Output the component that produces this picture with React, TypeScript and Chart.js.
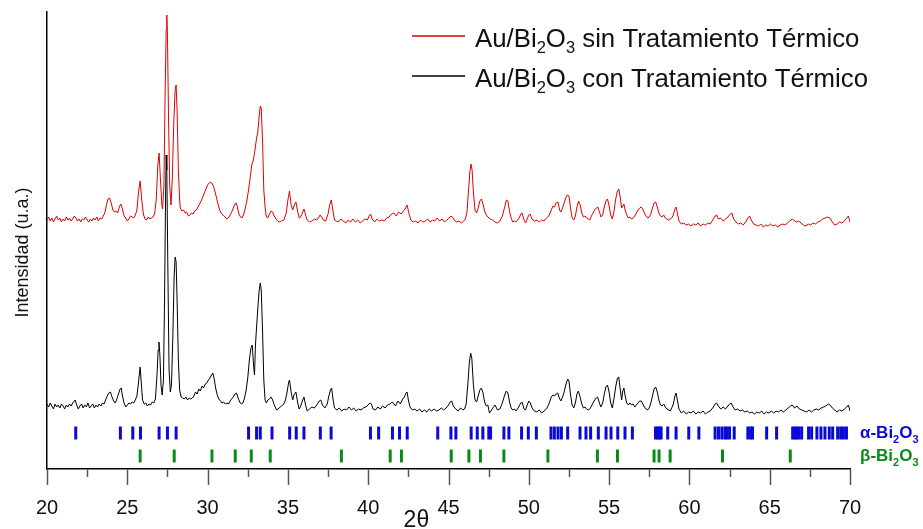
import React, { useEffect, useRef } from 'react';
import { Chart, registerables } from 'chart.js';
Chart.register(...registerables);

// ---------- data ----------
const X_MIN = 20;
const X_MAX = 70;
const X_STEP = 5;
const Y_MAX = 457;

const seriesLabels = [
  'Au/Bi2O3 sin Tratamiento Térmico',
  'Au/Bi2O3 con Tratamiento Térmico',
];
const phaseLabels = ['α-Bi2O3', 'β-Bi2O3'];
const axisTitleX = '2θ';
const axisTitleY = 'Intensidad (u.a.)';

// Au/Bi2O3 sin tratamiento térmico: [2θ, intensity a.u.]
const sinTratamiento: [number, number][] = [
  [20.0,249],[20.1,252],[20.2,248],[20.3,251],[20.4,247],[20.5,250],[20.6,253],[20.7,249],[20.8,251],[20.9,247],
  [21.0,250],[21.1,248],[21.2,252],[21.3,249],[21.4,251],[21.5,248],[21.6,250],[21.7,253],[21.8,251],[21.9,248],
  [22.0,250],[22.1,247],[22.2,250],[22.3,249],[22.4,252],[22.5,249],[22.6,247],[22.7,250],[22.8,248],[22.9,251],
  [23.0,249],[23.1,252],[23.2,248],[23.3,251],[23.4,250],[23.5,253],[23.6,256],[23.7,264],[23.8,270],[23.9,271],
  [24.0,266],[24.1,259],[24.2,257],[24.3,258],[24.4,256],[24.5,262],[24.6,265],[24.7,260],[24.8,253],[24.9,251],
  [25.0,248],[25.1,250],[25.2,253],[25.3,252],[25.4,251],[25.5,254],[25.6,259],[25.7,277],[25.8,288],[25.9,269],
  [26.0,255],[26.1,250],[26.2,249],[26.3,252],[26.4,250],[26.5,251],[26.6,252],[26.7,255],[26.8,269],[26.9,304],
  [26.98,316],[27.05,294],[27.15,264],[27.2,260],[27.28,284],[27.35,369],[27.42,439],[27.46,454],[27.5,434],[27.57,349],
  [27.64,284],[27.72,264],[27.8,289],[27.9,349],[27.98,379],[28.04,384],[28.1,359],[28.18,299],[28.26,269],[28.3,261],
  [28.4,258],[28.5,259],[28.6,256],[28.7,257],[28.8,253],[28.9,254],[29.0,256],[29.1,255],[29.2,258],[29.3,259],
  [29.4,262],[29.5,265],[29.6,268],[29.7,272],[29.8,276],[29.9,280],[30.0,284],[30.1,286],[30.2,287],[30.3,285],
  [30.4,281],[30.5,275],[30.6,268],[30.7,262],[30.8,257],[30.9,255],[31.0,253],[31.1,252],[31.2,250],[31.3,251],
  [31.4,254],[31.5,257],[31.6,261],[31.7,265],[31.78,266],[31.85,262],[31.95,255],[32.05,252],[32.15,251],[32.25,255],
  [32.35,261],[32.45,269],[32.55,279],[32.65,291],[32.75,304],[32.85,309],[32.95,319],[33.05,331],[33.12,336],[33.2,351],
  [33.28,363],[33.34,361],[33.42,329],[33.5,279],[33.58,262],[33.66,252],[33.75,251],[33.85,255],[33.95,258],[34.05,257],
  [34.15,253],[34.3,249],[34.45,247],[34.6,248],[34.75,249],[34.9,256],[35.0,269],[35.1,278],[35.2,264],[35.3,259],
  [35.4,264],[35.5,267],[35.6,258],[35.7,251],[35.8,252],[35.9,256],[36.0,260],[36.1,254],[36.2,249],[36.35,247],
  [36.5,248],[36.65,250],[36.8,249],[36.9,251],[37.0,254],[37.1,252],[37.2,249],[37.35,248],[37.5,255],[37.6,264],
  [37.7,269],[37.8,259],[37.9,249],[38.0,248],[38.15,247],[38.3,250],[38.45,248],[38.6,246],[38.75,249],[38.9,247],
  [39.05,250],[39.2,247],[39.35,249],[39.5,246],[39.65,248],[39.8,250],[39.95,249],[40.05,253],[40.15,255],[40.25,250],
  [40.4,247],[40.55,250],[40.7,248],[40.85,249],[41.0,248],[41.15,251],[41.3,252],[41.45,255],[41.6,256],[41.75,253],
  [41.9,257],[42.05,255],[42.2,258],[42.3,260],[42.42,264],[42.52,257],[42.65,249],[42.8,247],[42.95,248],[43.1,246],
  [43.25,249],[43.4,247],[43.55,248],[43.7,250],[43.85,247],[44.0,249],[44.15,248],[44.3,251],[44.45,248],[44.6,250],
  [44.75,247],[44.9,249],[45.05,251],[45.15,253],[45.25,252],[45.35,249],[45.5,247],[45.65,248],[45.8,246],[45.95,248],
  [46.05,250],[46.15,257],[46.25,279],[46.33,297],[46.4,305],[46.47,299],[46.55,277],[46.65,259],[46.75,256],[46.85,261],
  [46.95,268],[47.05,270],[47.15,265],[47.25,258],[47.35,254],[47.45,252],[47.6,250],[47.75,249],[47.9,247],[48.05,246],
  [48.2,248],[48.35,253],[48.5,262],[48.6,269],[48.7,268],[48.8,258],[48.9,251],[49.0,247],[49.1,248],[49.2,247],
  [49.3,249],[49.4,251],[49.5,255],[49.58,256],[49.7,249],[49.8,246],[49.9,250],[50.0,254],[50.08,255],[50.2,250],
  [50.35,248],[50.5,249],[50.65,247],[50.8,249],[50.95,248],[51.1,251],[51.25,253],[51.4,259],[51.5,263],[51.6,262],
  [51.7,266],[51.82,267],[51.92,259],[52.0,257],[52.1,261],[52.2,266],[52.3,271],[52.4,274],[52.5,273],[52.6,261],
  [52.7,251],[52.8,249],[52.9,253],[53.0,262],[53.1,268],[53.2,264],[53.3,256],[53.4,252],[53.5,253],[53.6,251],
  [53.7,250],[53.8,249],[53.9,253],[54.0,256],[54.1,259],[54.2,261],[54.3,262],[54.4,257],[54.5,252],[54.6,254],
  [54.7,262],[54.8,268],[54.9,270],[55.0,263],[55.1,254],[55.2,250],[55.3,257],[55.4,269],[55.5,277],[55.6,280],
  [55.7,271],[55.78,261],[55.85,263],[55.92,265],[56.0,259],[56.1,254],[56.2,251],[56.3,252],[56.4,250],[56.5,251],
  [56.6,253],[56.7,256],[56.8,259],[56.9,261],[57.0,262],[57.1,260],[57.2,256],[57.3,253],[57.4,251],[57.5,252],
  [57.6,255],[57.7,261],[57.8,266],[57.9,267],[58.0,262],[58.1,256],[58.2,253],[58.3,252],[58.4,254],[58.5,251],
  [58.6,250],[58.7,249],[58.8,250],[58.9,251],[59.0,254],[59.1,260],[59.17,262],[59.25,256],[59.35,248],[59.5,245],
  [59.65,246],[59.8,244],[59.95,245],[60.1,243],[60.25,245],[60.4,244],[60.55,246],[60.7,243],[60.85,245],[61.0,244],
  [61.15,246],[61.3,245],[61.45,249],[61.6,253],[61.7,254],[61.8,250],[61.95,251],[62.1,248],[62.25,250],[62.4,252],
  [62.55,255],[62.65,256],[62.75,250],[62.9,247],[63.05,245],[63.2,246],[63.35,244],[63.5,247],[63.65,251],[63.75,253],
  [63.85,249],[64.0,245],[64.15,244],[64.3,243],[64.45,245],[64.6,242],[64.75,244],[64.9,243],[65.05,245],[65.2,243],
  [65.35,244],[65.5,242],[65.65,244],[65.8,245],[65.95,244],[66.1,246],[66.25,248],[66.4,250],[66.5,249],[66.65,247],
  [66.8,248],[66.95,246],[67.1,244],[67.25,243],[67.4,245],[67.55,244],[67.7,246],[67.85,245],[68.0,247],[68.15,248],
  [68.3,250],[68.45,251],[68.6,252],[68.75,251],[68.9,247],[69.05,244],[69.2,245],[69.35,247],[69.5,246],[69.65,248],
  [69.8,251],[69.9,253],[70.0,247],
];

// Au/Bi2O3 con tratamiento térmico: [2θ, intensity a.u.]
const conTratamiento: [number, number][] = [
  [20.0,65],[20.1,62],[20.2,66],[20.3,63],[20.4,60],[20.5,65],[20.6,62],[20.7,64],[20.8,61],[20.9,65],
  [21.0,63],[21.1,60],[21.2,64],[21.3,62],[21.4,65],[21.5,63],[21.6,66],[21.75,69],[21.85,64],[21.95,60],
  [22.05,63],[22.15,65],[22.25,61],[22.35,64],[22.45,62],[22.55,66],[22.65,61],[22.75,63],[22.85,65],[22.95,61],
  [23.05,64],[23.15,62],[23.25,65],[23.35,63],[23.45,66],[23.55,65],[23.65,69],[23.75,73],[23.85,76],[23.95,77],
  [24.05,72],[24.15,68],[24.25,66],[24.35,70],[24.45,75],[24.55,80],[24.62,81],[24.7,73],[24.8,66],[24.9,62],
  [25.0,64],[25.1,66],[25.2,65],[25.3,67],[25.4,66],[25.5,69],[25.6,73],[25.7,87],[25.8,102],[25.88,84],
  [25.95,69],[26.05,65],[26.15,66],[26.25,63],[26.35,65],[26.45,64],[26.55,67],[26.65,66],[26.75,70],[26.85,94],
  [26.92,119],[26.97,127],[27.03,114],[27.1,84],[27.17,74],[27.25,89],[27.32,169],[27.38,269],[27.42,314],[27.46,299],
  [27.52,209],[27.6,99],[27.68,77],[27.75,84],[27.83,129],[27.92,194],[27.98,212],[28.04,207],[28.1,169],[28.18,109],
  [28.26,79],[28.35,72],[28.45,71],[28.55,70],[28.65,72],[28.75,69],[28.85,71],[28.95,70],[29.05,71],[29.15,73],
  [29.25,77],[29.35,75],[29.45,80],[29.55,78],[29.65,83],[29.75,81],[29.85,85],[29.95,86],[30.05,89],[30.15,91],
  [30.25,94],[30.32,96],[30.4,91],[30.5,81],[30.6,74],[30.7,70],[30.8,68],[30.9,66],[31.0,67],[31.1,65],
  [31.2,66],[31.3,65],[31.4,68],[31.5,70],[31.6,72],[31.7,75],[31.8,76],[31.9,71],[32.0,67],[32.1,65],
  [32.2,66],[32.3,71],[32.4,79],[32.5,91],[32.6,109],[32.7,121],[32.78,124],[32.86,104],[32.92,94],[32.98,124],
  [33.05,142],[33.12,159],[33.2,177],[33.28,186],[33.34,179],[33.42,139],[33.5,89],[33.58,69],[33.66,66],[33.75,69],
  [33.85,70],[33.95,72],[34.05,69],[34.15,64],[34.3,59],[34.45,61],[34.6,63],[34.75,65],[34.85,69],[34.95,77],
  [35.05,87],[35.1,89],[35.2,77],[35.3,69],[35.4,75],[35.5,77],[35.6,67],[35.7,60],[35.8,63],[35.9,68],
  [36.0,72],[36.1,64],[36.2,58],[36.35,60],[36.5,62],[36.65,61],[36.8,64],[36.95,68],[37.05,69],[37.15,64],
  [37.3,61],[37.45,65],[37.55,73],[37.65,79],[37.72,81],[37.8,71],[37.9,61],[38.05,59],[38.2,61],[38.35,58],
  [38.5,60],[38.65,59],[38.8,62],[38.95,59],[39.1,61],[39.25,58],[39.4,60],[39.55,59],[39.7,61],[39.85,62],
  [40.0,64],[40.1,66],[40.2,65],[40.3,60],[40.45,59],[40.6,62],[40.75,60],[40.9,63],[41.05,61],[41.2,64],
  [41.35,65],[41.5,67],[41.6,65],[41.7,63],[41.85,68],[42.0,65],[42.15,70],[42.25,72],[42.35,76],[42.42,77],
  [42.5,69],[42.6,62],[42.75,59],[42.9,60],[43.05,58],[43.2,60],[43.35,57],[43.5,59],[43.65,57],[43.8,60],
  [43.95,58],[44.1,60],[44.25,58],[44.4,59],[44.55,61],[44.7,59],[44.85,61],[45.0,64],[45.1,67],[45.2,68],
  [45.3,63],[45.45,60],[45.6,58],[45.75,61],[45.9,59],[46.0,60],[46.1,65],[46.2,84],[46.3,107],[46.38,116],
  [46.45,111],[46.55,84],[46.65,69],[46.75,67],[46.85,73],[46.95,79],[47.05,81],[47.15,76],[47.25,67],[47.35,63],
  [47.45,64],[47.55,56],[47.65,58],[47.75,61],[47.9,64],[48.05,59],[48.2,60],[48.35,66],[48.5,74],[48.6,78],
  [48.7,76],[48.8,67],[48.9,61],[49.0,59],[49.1,60],[49.2,58],[49.3,60],[49.4,63],[49.5,66],[49.58,67],
  [49.7,60],[49.8,59],[49.9,64],[50.0,68],[50.1,66],[50.2,61],[50.35,58],[50.5,57],[50.65,59],[50.8,56],
  [50.95,58],[51.1,60],[51.25,65],[51.4,72],[51.5,74],[51.6,73],[51.7,75],[51.8,76],[51.9,71],[52.0,68],
  [52.1,72],[52.2,77],[52.3,84],[52.42,90],[52.5,88],[52.6,74],[52.7,64],[52.8,61],[52.9,66],[53.0,75],
  [53.08,78],[53.18,73],[53.3,65],[53.4,61],[53.5,62],[53.6,60],[53.7,59],[53.8,60],[53.9,63],[54.0,66],
  [54.1,69],[54.2,71],[54.28,72],[54.38,67],[54.48,62],[54.6,66],[54.7,75],[54.8,82],[54.9,84],[55.0,77],
  [55.1,66],[55.2,61],[55.3,70],[55.42,83],[55.52,91],[55.6,92],[55.7,79],[55.78,69],[55.85,78],[55.92,81],
  [56.0,73],[56.1,66],[56.2,64],[56.3,66],[56.4,64],[56.5,65],[56.6,62],[56.7,64],[56.8,66],[56.9,68],
  [57.0,68],[57.1,65],[57.2,62],[57.3,60],[57.4,59],[57.5,61],[57.6,66],[57.7,73],[57.8,80],[57.9,82],
  [58.0,77],[58.1,69],[58.2,64],[58.3,63],[58.4,65],[58.5,62],[58.6,60],[58.7,59],[58.8,58],[58.9,61],
  [59.0,65],[59.1,73],[59.17,76],[59.25,69],[59.35,60],[59.5,56],[59.65,58],[59.8,55],[59.95,57],[60.1,56],
  [60.25,58],[60.4,55],[60.55,57],[60.7,56],[60.85,58],[61.0,55],[61.15,57],[61.3,58],[61.45,61],[61.6,65],
  [61.7,66],[61.8,63],[61.95,60],[62.1,62],[62.25,60],[62.4,63],[62.5,65],[62.6,66],[62.72,62],[62.85,59],
  [63.0,60],[63.15,58],[63.3,59],[63.45,57],[63.6,58],[63.75,56],[63.9,57],[64.05,55],[64.2,57],[64.35,56],
  [64.5,58],[64.65,55],[64.8,57],[64.95,56],[65.1,58],[65.25,56],[65.4,58],[65.55,57],[65.7,59],[65.85,57],
  [66.0,59],[66.15,61],[66.3,63],[66.4,64],[66.55,61],[66.7,63],[66.85,60],[67.0,59],[67.15,58],[67.3,57],
  [67.45,59],[67.6,57],[67.75,59],[67.9,60],[68.05,59],[68.2,61],[68.35,62],[68.5,63],[68.65,65],[68.75,64],
  [68.9,61],[69.05,59],[69.2,57],[69.35,59],[69.5,58],[69.65,60],[69.8,62],[69.9,64],[70.0,58],
];

// reference reflection positions (2θ)
const alphaPeaks = [
  21.79, 24.57, 25.34, 25.82, 26.98, 27.50, 28.04, 32.55, 33.05, 33.28, 34.01, 35.11, 35.52, 36.00,
  37.02, 37.69, 40.14, 40.65, 41.51, 41.95, 42.43, 44.33, 45.15, 45.46, 46.41, 46.79, 47.14, 47.51,
  47.62, 48.45, 48.76, 49.55, 49.97, 50.47, 51.38, 51.59, 51.82, 52.03, 52.42, 53.19, 53.56, 53.85,
  54.33, 54.81, 55.12, 55.54, 55.99, 56.45, 57.89, 58.01, 58.14, 58.24, 58.65, 59.17, 59.96, 60.59,
  61.60, 61.81, 62.02, 62.21, 62.33, 62.50, 62.79, 63.64, 63.81, 63.93, 64.81, 65.43, 66.43, 66.55,
  66.68, 66.82, 66.99, 67.42, 67.61, 67.94, 68.19, 68.44, 68.71, 68.92, 69.23, 69.42, 69.59, 69.78,
];
const betaPeaks = [
  25.80, 27.92, 30.27, 31.72, 32.72, 33.90, 38.33, 41.37, 42.07, 45.17, 46.27, 46.99, 48.45, 51.19,
  54.27, 55.52, 57.80, 58.11, 58.80, 62.06, 66.28,
];
const ALPHA_ROW = 36;
const BETA_ROW = 13;

// ---------- styles ----------
const FONT = '"Liberation Sans", Arial, Helvetica, sans-serif';
const RED = '#e10000';
const BLACK = '#000000';
const BLUE = '#0a0ad8';
const GREEN = '#0a8a14';

function splitChem(label: string) {
  // digits directly after a letter are subscripts
  const parts: { t: string; sub: boolean }[] = [];
  const re = /([A-Za-z\)])(\d+)/g;
  let last = 0;
  let m: RegExpExecArray | null;
  while ((m = re.exec(label))) {
    const end = m.index + m[1].length;
    parts.push({ t: label.slice(last, end), sub: false });
    parts.push({ t: m[2], sub: true });
    last = end + m[2].length;
  }
  if (last < label.length) parts.push({ t: label.slice(last), sub: false });
  return parts;
}

function drawRich(
  ctx: CanvasRenderingContext2D, label: string, x: number, baseline: number,
  size: number, subSize: number, subDrop: number, weight: string, color: string,
) {
  ctx.save();
  ctx.fillStyle = color;
  ctx.textAlign = 'left';
  ctx.textBaseline = 'alphabetic';
  let cx = x;
  for (const p of splitChem(label)) {
    ctx.font = `${weight} ${p.sub ? subSize : size}px ${FONT}`;
    ctx.fillText(p.t, cx, baseline + (p.sub ? subDrop : 0));
    cx += ctx.measureText(p.t).width;
  }
  ctx.restore();
}

const decorPlugin = {
  id: 'decor',
  afterDraw(chart: any) {
    const ctx: CanvasRenderingContext2D = chart.ctx;
    const { left, right, top, bottom } = chart.chartArea;
    const xs = chart.scales.x;
    const ys = chart.scales.y;

    // tick marks (major + minor) and tick labels
    const ticks = xs.ticks.map((t: any) => t.value);
    ctx.save();
    ctx.strokeStyle = '#555';
    ctx.lineWidth = 1.5;
    for (const v of ticks) {
      const px = Math.round(xs.getPixelForValue(v)) + 0.5;
      ctx.beginPath();
      ctx.moveTo(px, bottom);
      ctx.lineTo(px, bottom + 16);
      ctx.stroke();
    }
    for (let i = 0; i < ticks.length - 1; i++) {
      const px = Math.round(xs.getPixelForValue((ticks[i] + ticks[i + 1]) / 2)) + 0.5;
      ctx.beginPath();
      ctx.moveTo(px, bottom);
      ctx.lineTo(px, bottom + 8);
      ctx.stroke();
    }
    ctx.font = `20px ${FONT}`;
    ctx.fillStyle = '#111';
    ctx.textAlign = 'center';
    ctx.textBaseline = 'alphabetic';
    for (const v of ticks) {
      ctx.fillText(String(v), xs.getPixelForValue(v), bottom + 45);
    }
    ctx.restore();

    // legend (first two datasets)
    for (let i = 0; i < 2; i++) {
      const ds = chart.data.datasets[i];
      const ly = top + 24 + i * 40;
      ctx.save();
      ctx.strokeStyle = ds.borderColor;
      ctx.lineWidth = 1.5;
      ctx.beginPath();
      ctx.moveTo(412, ly);
      ctx.lineTo(465, ly);
      ctx.stroke();
      ctx.restore();
      drawRich(ctx, ds.label, 475, ly + 10.5, 25.8, 16.5, 6, 'normal', '#111');
    }

    // phase labels at the right of the reflection rows
    for (let i = 2; i < 4; i++) {
      const ds = chart.data.datasets[i];
      const py = ys.getPixelForValue(ds.data[0][1]);
      drawRich(ctx, ds.label, right + 10, py + 4.5, 17, 11, 5, 'bold', ds.borderColor);
    }

    // y title
    ctx.save();
    ctx.translate(23, (top + bottom) / 2 + 12);
    ctx.rotate(-Math.PI / 2);
    ctx.font = `18px ${FONT}`;
    ctx.fillStyle = '#111';
    ctx.textAlign = 'center';
    ctx.textBaseline = 'middle';
    ctx.fillText(axisTitleY, 0, 0);
    ctx.restore();

    // x title
    ctx.save();
    ctx.font = `23px ${FONT}`;
    ctx.fillStyle = '#111';
    ctx.textAlign = 'center';
    ctx.textBaseline = 'alphabetic';
    ctx.fillText(axisTitleX, left + (right - left) * 0.46, bottom + 58);
    ctx.restore();
  },
};

export default function App() {
  const ref = useRef<HTMLCanvasElement | null>(null);

  useEffect(() => {
    if (!ref.current) return;
    const chart = new Chart(ref.current, {
      type: 'line',
      data: {
        datasets: [
          {
            label: seriesLabels[0],
            data: sinTratamiento as any,
            borderColor: RED,
            borderWidth: 1,
            pointRadius: 0,
            tension: 0,
          },
          {
            label: seriesLabels[1],
            data: conTratamiento as any,
            borderColor: BLACK,
            borderWidth: 1,
            pointRadius: 0,
            tension: 0,
          },
          {
            label: phaseLabels[0],
            data: alphaPeaks.map((x) => [x, ALPHA_ROW]) as any,
            showLine: false,
            borderColor: BLUE,
            backgroundColor: BLUE,
            pointStyle: 'line',
            pointRotation: 90,
            pointRadius: 6.5,
            pointBorderWidth: 3,
          },
          {
            label: phaseLabels[1],
            data: betaPeaks.map((x) => [x, BETA_ROW]) as any,
            showLine: false,
            borderColor: GREEN,
            backgroundColor: GREEN,
            pointStyle: 'line',
            pointRotation: 90,
            pointRadius: 6.5,
            pointBorderWidth: 3,
          },
        ],
      },
      options: {
        responsive: false,
        animation: false,
        devicePixelRatio: 1,
        events: [],
        layout: { padding: { left: 47, right: 73, top: 12, bottom: 0 } },
        plugins: {
          legend: { display: false },
          tooltip: { enabled: false },
        },
        scales: {
          x: {
            type: 'linear',
            min: X_MIN,
            max: X_MAX,
            afterFit: (s: any) => { s.height = 60; },
            ticks: {
              stepSize: X_STEP,
              display: false,
            },
            grid: { display: false },
            border: { display: true, color: '#000', width: 1.5 },
          },
          y: {
            type: 'linear',
            min: 0,
            max: Y_MAX,
            afterFit: (s: any) => { s.width = 0; },
            ticks: { display: false },
            grid: { display: false },
            border: { display: true, color: '#000', width: 1.5 },
          },
        },
      },
      plugins: [decorPlugin],
    });
    return () => chart.destroy();
  }, []);

  return (
    <div style={{ position: 'fixed', left: 0, top: 0, width: 923, height: 529, background: '#fff' }}>
      <canvas ref={ref} width={923} height={529} style={{ width: 923, height: 529 }} />
    </div>
  );
}
